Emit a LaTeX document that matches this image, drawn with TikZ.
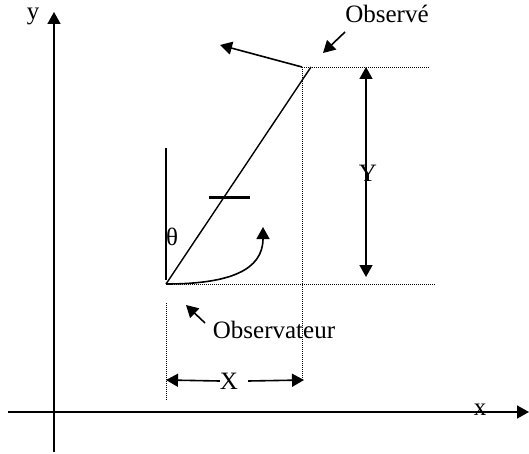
\documentclass[tikz,border=0pt]{standalone}
\usepackage{fontspec}
\setmainfont{Liberation Serif}
\usetikzlibrary{arrows.meta}

\begin{document}
\begin{tikzpicture}[
    x=1pt,y=-1pt,
    lbl/.style={font=\fontsize{25}{30}\selectfont,inner sep=0pt},
    arr/.style={line width=1.6pt,-{Triangle[length=12pt,width=13pt]}},
    darr/.style={line width=1.6pt,{Triangle[length=12pt,width=13pt]}-{Triangle[length=12pt,width=13pt]}},
    guide/.style={line width=0.9pt,dash pattern=on 1pt off 1pt}
]
\useasboundingbox (0,0) rectangle (529,454);

\coordinate (O) at (166,284);
\coordinate (P) at (302,67);
\coordinate (Ptop) at (311,67);

\coordinate (xs) at (8,412);
\coordinate (xe) at (529,412);
\coordinate (ys) at (54,452);
\coordinate (ye) at (54,12);

\draw[arr] (xs) -- (xe);
\draw[arr] (ys) -- (ye);
\node[lbl] (xlab) at (480,410) {x};
\node[lbl] (ylab) at (33,16) {y};

\draw[guide] (P) -- (430,67);
\draw[guide] (O) -- (436,284);
\draw[guide] (P) -- (302,380);
\draw[guide] (166,303) -- (166,400);

\draw[line width=1.4pt] (O) -- (Ptop);
\draw[line width=1.6pt] (166,280) -- (166,148);
\draw[line width=3pt] (209,198) -- (250,198);
\node[lbl] (theta) at (172,237) {θ};

\draw[arr] (O) .. controls (230,284) and (263,270) .. (263,227);
\draw[arr] (P) -- (220,45);

\node[lbl] (observe) at (387,14) {Observé};
\draw[arr] (345,32) -- (323,53);

\draw[darr] (366,67) -- (366,277);
\node[lbl] (ylen) at (368,173) {Y};

\node[lbl] (xlen) at (229,381) {X};
\draw[arr] (xlen.west) -- (166,380);
\draw[arr] ([xshift=10pt]xlen.east) -- (304,380);

\node[lbl] (observer) at (274,330) {Observateur};
\draw[arr] (205,323) -- (186,305);
\end{tikzpicture}
\end{document}
